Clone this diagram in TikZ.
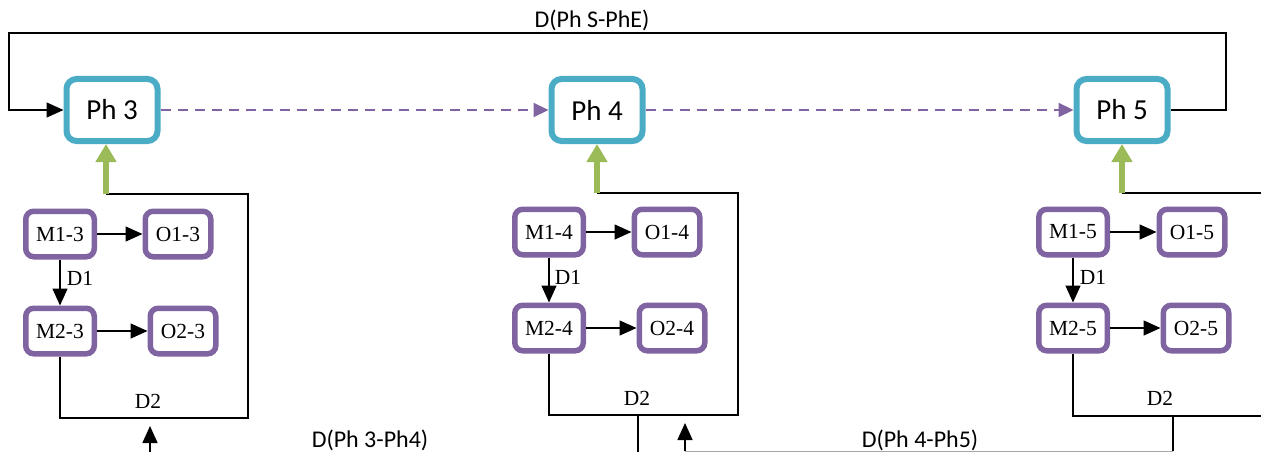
\documentclass[tikz,border=0pt]{standalone}
\usepackage{fontspec}
\setmainfont{Liberation Serif}
\newfontfamily\calib{Carlito}
\usetikzlibrary{arrows.meta}
\definecolor{phblue}{HTML}{4BACC6}
\definecolor{mpurple}{HTML}{8064A2}
\definecolor{agreen}{HTML}{9BBB59}
\begin{document}
\begin{tikzpicture}[x=1pt,y=-1pt,
  phbox/.style={draw=phblue,line width=6pt,rounded corners=10pt,fill=white,minimum width=91pt,minimum height=62pt,inner sep=0pt,font=\calib\fontsize{29}{32}\selectfont},
  mbox/.style={draw=mpurple,line width=5.5pt,rounded corners=8pt,fill=white,minimum width=68.5pt,minimum height=45.5pt,inner sep=0pt,font=\fontsize{21.5}{24}\selectfont},
  obox/.style={mbox,minimum width=65.5pt},
  conn/.style={line width=1.5pt,-{Triangle[length=17pt,width=15pt]}},
  plain/.style={line width=1.5pt},
  dsh/.style={draw=mpurple,line width=2.2pt,dash pattern=on 10pt off 7pt,-{Triangle[length=15pt,width=14pt]}},
  garrow/.style={draw=agreen,line width=6pt,-{Triangle[length=18pt,width=20pt]}},
  lbl/.style={font=\fontsize{21.5}{24}\selectfont,inner sep=0pt},
  slbl/.style={font=\calib\fontsize{24}{27}\selectfont,inner sep=0pt}
]
\useasboundingbox (0,0) rectangle (1261,452);

% phase boxes
\node[phbox] (P3) at (112,110) {Ph 3};
\node[phbox] (P4) at (597,110) {Ph 4};
\node[phbox] (P5) at (1122,110) {Ph 5};

% group 3
\node[mbox] (M13) at (60,234) {M1-3};
\node[obox] (O13) at (178,234) {O1-3};
\node[mbox] (M23) at (60,331) {M2-3};
\node[obox] (O23) at (183,331) {O2-3};
% group 4
\node[mbox] (M14) at (549,232) {M1-4};
\node[obox] (O14) at (667,232) {O1-4};
\node[mbox] (M24) at (549,328) {M2-4};
\node[obox] (O24) at (672,328) {O2-4};
% group 5
\node[mbox] (M15) at (1073,232) {M1-5};
\node[obox] (O15) at (1192,232) {O1-5};
\node[mbox] (M25) at (1073,328) {M2-5};
\node[obox] (O25) at (1196,328) {O2-5};

% coordinates
\coordinate (g3) at (106,194);
\coordinate (g4) at (597,193);
\coordinate (g5) at (1122,193);
\coordinate (c3) at (248,418);
\coordinate (c4) at (738,415);
\coordinate (e5t) at (1261,193);
\coordinate (e5b) at (1261,416);
\coordinate (s4t) at (638,415);
\coordinate (s4b) at (638,452);
\coordinate (s5t) at (1173,416);
\coordinate (s5b) at (1173,451);
\coordinate (a3b) at (150,452);
\coordinate (a3t) at (150,426);
\coordinate (a4b) at (685,451);
\coordinate (a4t) at (685,423);
\coordinate (tr) at (1226,33);
\coordinate (tl) at (9,110);

% top loop
\draw[conn] (P5.east) -| (tr) -| (tl) -- (P3.west);
\node[slbl] (dse) at (592,20) {D(Ph S-PhE)};

% dashed phase arrows
\draw[dsh] (P3.east) -- (P4.west);
\draw[dsh] (P4.east) -- (P5.west);

% group internal arrows
\foreach \g in {3,4,5}{
  \draw[conn] (M1\g.east) -- (O1\g.west);
  \draw[conn] (M2\g.east) -- (O2\g.west);
  \draw[conn] (M1\g.south) -- (M2\g.north);
}
\node[lbl] (d13) at (80,278) {D1};
\node[lbl] (d14) at (568,277) {D1};
\node[lbl] (d15) at (1093,277) {D1};
\node[lbl] (d23) at (148,401) {D2};
\node[lbl] (d24) at (637,398) {D2};
\node[lbl] (d25) at (1160,398) {D2};

% D2 loops
\draw[plain] (M23.south) |- (c3) |- (g3);
\draw[plain] (M24.south) |- (c4) |- (g4);
\draw[plain] (M25.south) |- (e5b);
\draw[plain] (e5t) -- (g5);

% green arrows
\draw[garrow] (g3) -- (g3 |- P3.south);
\draw[garrow] (g4) -- (g4 |- P4.south);
\draw[garrow] (g5) -- (g5 |- P5.south);

% bottom connectors
\draw[conn] (a3b) -- (a3t);
\node[slbl] (d34) at (370,440) {D(Ph 3-Ph4)};
\draw[plain] (s4t) -- (s4b);
\draw[plain] (s5t) -- (s5b);
\draw[line width=1pt,draw=black!35] (s5b) -- (a4b);
\draw[conn] (a4b) -- (a4t);
\node[slbl] (d45) at (920,440) {D(Ph 4-Ph5)};
\end{tikzpicture}
\end{document}
